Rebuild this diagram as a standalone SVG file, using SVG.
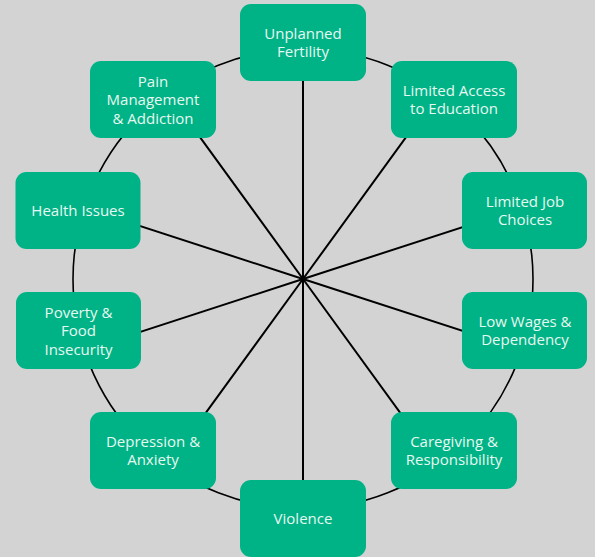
<svg xmlns="http://www.w3.org/2000/svg" width="595" height="557" viewBox="0 0 595 557">
<style>
.bg{fill:#d3d3d3}
.ring{fill:none;stroke:#000;stroke-width:1.6}
.spoke{stroke:#000;stroke-width:2;stroke-linecap:round}
.box{fill:#00b386}
.lbl{fill:#e8f7f1;font-family:"Open Sans","Noto Sans",sans-serif;font-size:15px;text-anchor:middle}
</style>
<rect class="bg" x="0" y="0" width="595" height="557"/>
<g id="connectors">
<circle class="ring" cx="303" cy="279" r="230"/>
<line class="spoke" x1="303" y1="279" x2="303" y2="49"/>
<line class="spoke" x1="303" y1="279" x2="167.8" y2="92.9"/>
<line class="spoke" x1="303" y1="279" x2="438.2" y2="92.9"/>
<line class="spoke" x1="303" y1="279" x2="84.3" y2="207.9"/>
<line class="spoke" x1="303" y1="279" x2="521.7" y2="207.9"/>
<line class="spoke" x1="303" y1="279" x2="84.3" y2="350.1"/>
<line class="spoke" x1="303" y1="279" x2="521.7" y2="350.1"/>
<line class="spoke" x1="303" y1="279" x2="167.8" y2="465.1"/>
<line class="spoke" x1="303" y1="279" x2="438.2" y2="465.1"/>
<line class="spoke" x1="303" y1="279" x2="303" y2="509"/>
</g>
<g id="unplanned-fertility">
<rect class="box" x="240" y="4" width="126" height="77" rx="11"/>
<text class="lbl" x="303" y="38.7">Unplanned</text>
<text class="lbl" x="303" y="57.2">Fertility</text>
</g>
<g id="pain-management">
<rect class="box" x="90" y="61" width="126" height="77" rx="11"/>
<text class="lbl" x="153" y="86.5">Pain</text>
<text class="lbl" x="153" y="105">Management</text>
<text class="lbl" x="153" y="123.5">&amp; Addiction</text>
</g>
<g id="limited-access">
<rect class="box" x="391" y="61" width="126" height="77" rx="11"/>
<text class="lbl" x="454" y="95.7">Limited Access</text>
<text class="lbl" x="454" y="114.2">to Education</text>
</g>
<g id="health-issues">
<rect class="box" x="15.5" y="172" width="125" height="77" rx="11"/>
<text class="lbl" x="78" y="215.7">Health Issues</text>
</g>
<g id="limited-job">
<rect class="box" x="462" y="172" width="125" height="77" rx="11"/>
<text class="lbl" x="525" y="206.7">Limited Job</text>
<text class="lbl" x="525" y="225.2">Choices</text>
</g>
<g id="poverty">
<rect class="box" x="16" y="292" width="125" height="77" rx="11"/>
<text class="lbl" x="78.5" y="317.5">Poverty &amp;</text>
<text class="lbl" x="78.5" y="336">Food</text>
<text class="lbl" x="78.5" y="354.5">Insecurity</text>
</g>
<g id="low-wages">
<rect class="box" x="462" y="292" width="125" height="77" rx="11"/>
<text class="lbl" x="525" y="326.7">Low Wages &amp;</text>
<text class="lbl" x="525" y="345.2">Dependency</text>
</g>
<g id="depression">
<rect class="box" x="90" y="412" width="126" height="77" rx="11"/>
<text class="lbl" x="153" y="446.7">Depression &amp;</text>
<text class="lbl" x="153" y="465.2">Anxiety</text>
</g>
<g id="caregiving">
<rect class="box" x="391" y="412" width="126" height="77" rx="11"/>
<text class="lbl" x="454" y="446.7">Caregiving &amp;</text>
<text class="lbl" x="454" y="465.2">Responsibility</text>
</g>
<g id="violence">
<rect class="box" x="240" y="480" width="126" height="77" rx="11"/>
<text class="lbl" x="303" y="523.5">Violence</text>
</g>
</svg>
